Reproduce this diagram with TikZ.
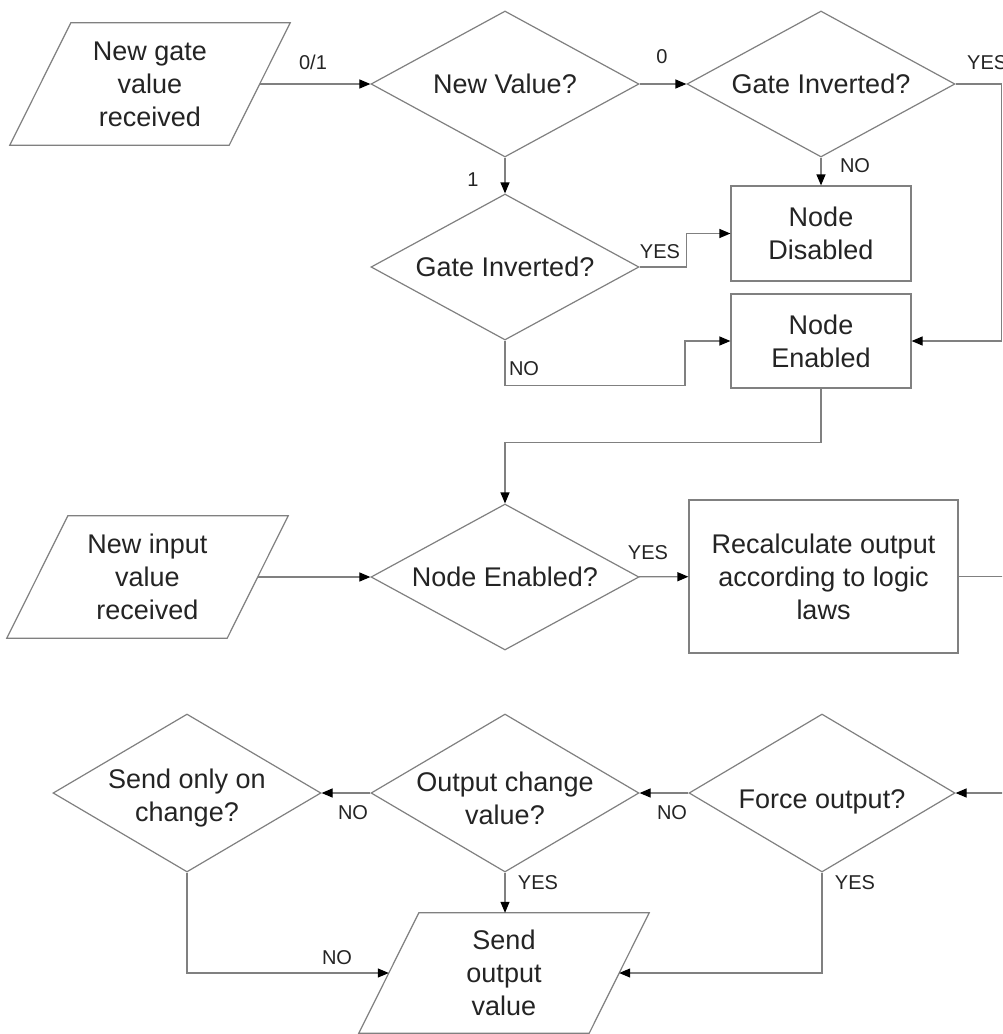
\documentclass[tikz,border=0pt]{standalone}
\usepackage{fontspec}
\setmainfont{Liberation Sans}
\usetikzlibrary{shapes.geometric,arrows.meta}
\definecolor{ln}{RGB}{128,128,128}
\definecolor{tx}{RGB}{36,36,36}
\begin{document}
\begin{tikzpicture}[x=1pt,y=-1pt,
  shp/.style={draw=ln, line width=1.2pt},
  dia/.style={shp, shape=diamond, inner sep=0pt, minimum width=268pt, minimum height=146pt},
  diab/.style={dia, minimum height=158pt},
  parabody/.style={rectangle, inner sep=0pt, align=center, text=tx, font=\fontsize{27}{33}\selectfont, minimum height=122pt},
  box/.style={shp, rectangle, inner sep=0pt, align=center, text=tx, font=\fontsize{27}{33}\selectfont},
  txt/.style={inner sep=0pt, align=center, text=tx, font=\fontsize{27}{33}\selectfont},
  lab/.style={inner sep=0pt, text=tx, font=\fontsize{20}{24}\selectfont},
  arr/.style={draw=ln, line width=1.2pt, -{Triangle[length=11pt,width=9pt,color=black]}},
  con/.style={draw=ln, line width=1.2pt}
]
\useasboundingbox (0,0) rectangle (1002,1034);
\clip (0,0) rectangle (1002,1034);
\fill[white] (0,0) rectangle (1002,1034);

% --- shapes ---
\node[parabody, minimum width=219pt] (p1) at (150,84) {New gate\\value\\received};
\draw[shp] ([xshift=-30.5pt]p1.south west) -- ([xshift=30.5pt]p1.north west)
  -- ([xshift=30.5pt]p1.north east) -- ([xshift=-30.5pt]p1.south east) -- cycle;
\node[dia] (d1) at (505,84) {};
\node[txt] (d1t) at (505,84) {New Value?};
\node[dia] (d2) at (821,84) {};
\node[txt] (d2t) at (821,84) {Gate Inverted?};
\node[dia] (d3) at (505,267) {};
\node[txt] (d3t) at (505,267) {Gate Inverted?};
\node[box, minimum width=180pt, minimum height=95pt] (dis) at (821,233.5) {Node\\Disabled};
\node[box, minimum width=180pt, minimum height=94pt] (en) at (821,341) {Node\\Enabled};

\node[parabody, minimum width=220pt] (p2) at (147.5,577) {New input\\value\\received};
\draw[shp] ([xshift=-30.5pt]p2.south west) -- ([xshift=30.5pt]p2.north west)
  -- ([xshift=30.5pt]p2.north east) -- ([xshift=-30.5pt]p2.south east) -- cycle;
\node[dia] (d4) at (505,577) {};
\node[txt] (d4t) at (505,577) {Node Enabled?};
\node[box, minimum width=269pt, minimum height=153pt] (rec) at (823.5,576.5) {Recalculate output\\according to logic\\laws};

\node[diab] (d5) at (187,793) {};
\node[txt] (d5t) at (187,798) {Send only on\\change?};
\node[diab] (d6) at (505,793) {};
\node[txt] (d6t) at (505,798) {Output change\\value?};
\node[diab, minimum width=266pt] (d7) at (822,793) {};
\node[txt] (d7t) at (822,802) {Force output?};
\node[parabody, minimum width=230pt, minimum height=120pt] (p3) at (504,973) {Send\\output\\value};
\draw[shp] ([xshift=-30pt]p3.south west) -- ([xshift=30pt]p3.north west)
  -- ([xshift=30pt]p3.north east) -- ([xshift=-30pt]p3.south east) -- cycle;

% --- connectors ---
\draw[arr] (p1) -- (d1);
\draw[arr] (d1) -- (d2);
\draw[arr] (d1) -- (d3);
\draw[arr] (d2) -- (dis);
\draw[arr] (d2.east) -- ++(46,0) |- (en.east);
\draw[arr] (d3.east) -- ++(47,0) |- (dis.west);
\draw[arr] (d3.south) -- ++(0,45) -- ++(180,0) |- (en.west);
\draw[arr] (en.south) -- ++(0,54) -| (d4.north);
\draw[arr] (p2) -- (d4);
\draw[arr] (d4) -- (rec);
\draw[arr] (rec.east) -- ++(52,0) |- (d7.east);
\draw[arr] (d7) -- (d6);
\draw[arr] (d6) -- (d5);
\draw[arr] (d6.south) -- (d6.south |- p3.north);
\draw[arr] (d5.south) |- (p3);
\draw[arr] (d7.south) |- (p3);

% --- labels ---
\node[lab] (l01) at (313,62) {0/1};
\node[lab] (l0) at (662,57) {0};
\node[lab] (l1) at (473,180) {1};
\node[lab] (lno1) at (855,166) {NO};
\node[lab, anchor=west] (lyes1) at (967,63) {YES};
\node[lab] (lyes2) at (660,252) {YES};
\node[lab] (lno2) at (524,369) {NO};
\node[lab] (lyes3) at (648,553) {YES};
\node[lab] (lno3) at (353,813) {NO};
\node[lab] (lno4) at (672,813) {NO};
\node[lab] (lyes4) at (538,883) {YES};
\node[lab] (lyes5) at (855,883) {YES};
\node[lab] (lno5) at (337,958) {NO};
\end{tikzpicture}
\end{document}
